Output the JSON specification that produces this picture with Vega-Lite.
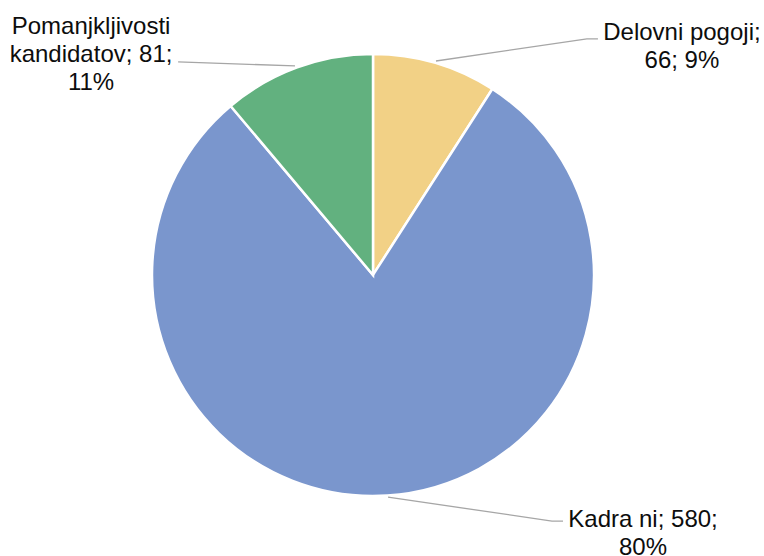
{
  "$schema": "https://vega.github.io/schema/vega-lite/v6.json",
  "width": 746,
  "height": 550,
  "autosize": "none",
  "padding": {"left": 0, "top": 0, "right": 18, "bottom": 6},
  "background": "white",
  "config": {"view": {"stroke": null}},
  "datasets": {
    "slices": [
      {"category": "Delovni pogoji", "count": 66, "share": "9%", "order": 1},
      {"category": "Kadra ni", "count": 580, "share": "80%", "order": 2},
      {"category": "Pomanjkljivosti kandidatov", "count": 81, "share": "11%", "order": 3}
    ],
    "labels": [
      {"category": "Delovni pogoji", "label": "Delovni pogoji;\n66; 9%", "lx": 1.398, "ly": 1.095},
      {"category": "Kadra ni", "label": "Kadra ni; 580;\n80%", "lx": 1.222, "ly": -1.109},
      {"category": "Pomanjkljivosti kandidatov", "label": "Pomanjkljivosti\nkandidatov; 81;\n11%", "lx": -1.276, "ly": 1.122}
    ],
    "leaders": [
      {"category": "Delovni pogoji", "seq": 1, "px": 0.285, "py": 0.968},
      {"category": "Delovni pogoji", "seq": 2, "px": 0.968, "py": 1.068},
      {"category": "Delovni pogoji", "seq": 3, "px": 1.018, "py": 1.068},
      {"category": "Kadra ni", "seq": 1, "px": 0.068, "py": -1.005},
      {"category": "Kadra ni", "seq": 2, "px": 0.81, "py": -1.113},
      {"category": "Kadra ni", "seq": 3, "px": 0.86, "py": -1.113},
      {"category": "Pomanjkljivosti kandidatov", "seq": 1, "px": -0.353, "py": 0.946},
      {"category": "Pomanjkljivosti kandidatov", "seq": 2, "px": -0.882, "py": 0.964}
    ]
  },
  "layer": [
    {
      "data": {"name": "slices"},
      "mark": {"type": "arc", "outerRadius": 221, "stroke": "white", "strokeWidth": 2.5},
      "encoding": {
        "theta": {"field": "count", "type": "quantitative", "stack": true},
        "order": {"field": "order", "type": "quantitative"},
        "color": {
          "field": "category",
          "type": "nominal",
          "scale": {
            "domain": ["Delovni pogoji", "Kadra ni", "Pomanjkljivosti kandidatov"],
            "range": ["#F2D186", "#7A96CD", "#62B17F"]
          },
          "legend": null
        }
      }
    },
    {
      "data": {"name": "leaders"},
      "mark": {"type": "line", "color": "#A6A6A6", "strokeWidth": 1.3},
      "encoding": {
        "x": {"field": "px", "type": "quantitative", "scale": {"domain": [-1.688, 1.688]}, "axis": null},
        "y": {"field": "py", "type": "quantitative", "scale": {"domain": [-1.244, 1.244]}, "axis": null},
        "detail": {"field": "category", "type": "nominal"},
        "order": {"field": "seq", "type": "quantitative"}
      }
    },
    {
      "data": {"name": "labels"},
      "mark": {
        "type": "text",
        "font": "Liberation Sans",
        "fontSize": 24,
        "lineHeight": 28,
        "lineBreak": "\n",
        "align": "center",
        "baseline": "middle",
        "color": "#0D0D0D"
      },
      "encoding": {
        "x": {"field": "lx", "type": "quantitative", "scale": {"domain": [-1.688, 1.688]}, "axis": null},
        "y": {"field": "ly", "type": "quantitative", "scale": {"domain": [-1.244, 1.244]}, "axis": null},
        "text": {"field": "label", "type": "nominal"}
      }
    }
  ]
}
